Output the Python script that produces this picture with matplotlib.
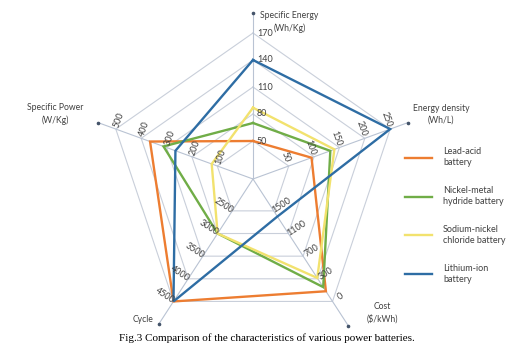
import numpy as np
import matplotlib.pyplot as plt

# axes of the radar, clockwise from the top
axis_names = ["Specific Energy\n(Wh/Kg)", "Energy density\n(Wh/L)", "Cost\n($/kWh)",
              "Cycle", "Specific Power\n(W/Kg)"]
axis_ticks = [
    [50, 80, 110, 140, 170],
    [50, 100, 150, 200, 250],
    [1500, 1100, 700, 300, 0],
    [2500, 3000, 3500, 4000, 4500],
    [100, 200, 300, 400, 500],
]

series_names = ["Lead-acid\nbattery", "Nickel-metal\nhydride battery",
                "Sodium-nickel\nchloride battery", "Lithium-ion\nbattery"]
lead_acid = [50, 95, 135, 4500, 365]
nimh = [70, 132, 190, 3000, 312]
na_nicl = [87, 140, 315, 3000, 122]
li_ion = [140, 250, 1400, 4500, 265]
series = [lead_acid, nimh, na_nicl, li_ion]
colors = ["#ED7D31", "#70AD47", "#F2E26E", "#2E6DA4"]

# layout (pixels)
cx, cy = 253, 179
ring_r = np.array([38, 65, 92, 119, 146])
ang = np.deg2rad([90, 20, -57, -123, 160])
end_r = [166, 165, 175, 173, 165]


def to_r(v, ticks):
    t = np.array(ticks, dtype=float)
    rr = ring_r.astype(float)
    if t[0] > t[-1]:
        t, rr = t[::-1], rr[::-1]
    return np.interp(v, t, rr)


def xy(r, a):
    return cx + r * np.cos(a), cy - r * np.sin(a)


fig = plt.figure(figsize=(5.24, 3.53), dpi=100)
ax = fig.add_axes([0, 0, 1, 1])
ax.set_xlim(0, 524)
ax.set_ylim(353, 0)
ax.axis("off")

grid_c = "#C9CFDA"
for r in ring_r:
    px, py = xy(np.append(np.full(5, r), r), np.append(ang, ang[0]))
    ax.plot(px, py, color=grid_c, lw=0.8, zorder=1)
for a, er in zip(ang, end_r):
    px, py = xy(np.array([0, er]), a)
    ax.plot(px, py, color="#B9C3D3", lw=0.8, zorder=1)
    ax.plot(px[1], py[1], "o", ms=1.6, color="#44546A", zorder=2)

# tick labels
fs = 6.5
txt = "#404040"
for i, (a, ticks) in enumerate(zip(ang, axis_ticks)):
    deg = np.rad2deg(a)
    rot = (deg - 90 + 90) % 180 - 90
    if i == 0:
        for t, r in zip(ticks, ring_r):
            px, py = xy(r, a)
            ax.text(px + 4, py, str(t), fontsize=fs, family="Lato", color=txt,
                    ha="left", va="center", zorder=4)
        continue
    pa = a + np.pi / 2 if i in (1, 2) else a - np.pi / 2
    for t, r in zip(ticks, ring_r):
        px, py = xy(r, a)
        ox, oy = 10 * np.cos(pa), -10 * np.sin(pa)
        ax.text(px + ox, py + oy, str(t), fontsize=fs, family="Lato", color=txt,
                ha="center", va="center", rotation=rot, zorder=4)

# axis titles
tfs = 6.2
se_title, se_unit = axis_names[0].split("\n")
ax.text(260, 15, se_title, fontsize=tfs, family="Lato", color=txt, ha="left", va="center")
ax.text(274, 28, se_unit, fontsize=tfs, family="Lato", color=txt, ha="left", va="center")
ax.text(441, 114, axis_names[1], fontsize=tfs, family="Lato", color=txt,
        ha="center", va="center", linespacing=1.35)
ax.text(382, 313, axis_names[2], fontsize=tfs, family="Lato", color=txt,
        ha="center", va="center", linespacing=1.35)
ax.text(143, 320, axis_names[3], fontsize=tfs, family="Lato", color=txt,
        ha="center", va="center")
ax.text(55, 114, axis_names[4], fontsize=tfs, family="Lato", color=txt,
        ha="center", va="center", linespacing=1.35)

# data
for vals, col, name in zip(series, colors, series_names):
    rs = np.array([to_r(v, t) for v, t in zip(vals, axis_ticks)])
    px, py = xy(np.append(rs, rs[0]), np.append(ang, ang[0]))
    ax.plot(px, py, color=col, lw=1.7, label=name, zorder=3, solid_joinstyle="miter")

leg = ax.legend(loc="upper left", bbox_to_anchor=(405 / 524, 1 - 147 / 353),
                frameon=False, handlelength=3.0, handletextpad=1.2,
                labelspacing=2.05, borderpad=0, borderaxespad=0,
                prop={"family": "Lato", "size": 6.5})
for t in leg.get_texts():
    t.set_color(txt)
    t.set_linespacing(1.35)

ax.text(267, 338, "Fig.3 Comparison of the characteristics of various power batteries.",
        fontsize=8, family="Liberation Serif", ha="center", va="center")

fig.savefig("out.png", dpi=100)
